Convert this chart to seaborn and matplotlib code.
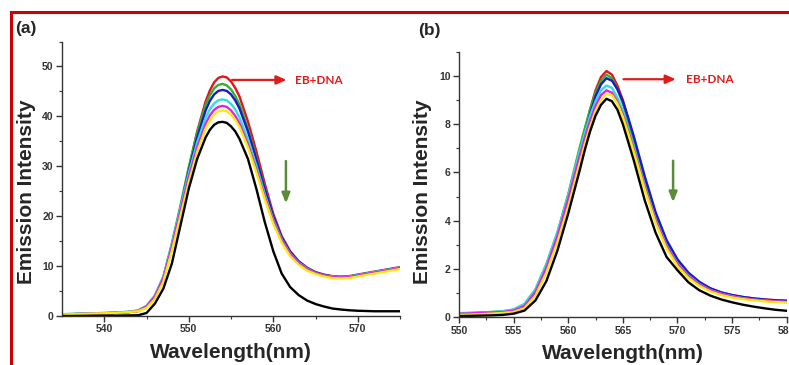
import matplotlib
matplotlib.use("Agg")
import matplotlib.pyplot as plt
import seaborn as sns
import pandas as pd
from matplotlib.patches import Rectangle

# ---------------- data: panel (a) ----------------
wl_a = [535,536,537,538,539,540,541,542,543,544,545,546,547,548,549,550,551,552,
        552.5,553,553.5,554,554.5,555,555.5,556,
        557,558,559,560,561,562,563,564,565,566,567,568,569,570,571,572,573,574,575]
a_red = [0.3,0.35,0.4,0.45,0.5,0.55,0.6,0.7,0.8,1.0,1.8,3.8,7.5,14.0,21.5,29.5,37.0,43.0,
         45.2,46.8,47.7,48.0,47.8,47.0,45.7,44.0,
         39.0,33.0,26.5,20.5,16.0,13.0,11.0,9.7,8.8,8.3,8.0,7.9,8.0,8.3,8.6,8.9,9.2,9.5,9.8]
a_green = [0.35,0.4,0.45,0.5,0.55,0.6,0.65,0.75,0.85,1.1,2.0,4.1,7.9,14.5,22.0,29.8,36.8,42.3,
           44.2,45.6,46.3,46.5,46.2,45.4,44.1,42.4,
           37.6,31.8,25.6,20.0,15.6,12.7,10.8,9.6,8.7,8.2,7.9,7.8,7.9,8.2,8.5,8.8,9.1,9.4,9.7]
a_blue = [0.3,0.35,0.4,0.45,0.5,0.55,0.6,0.7,0.8,1.0,1.9,3.9,7.6,14.1,21.4,29.0,35.8,41.2,
          43.1,44.4,45.1,45.3,45.1,44.4,43.2,41.6,
          37.0,31.4,25.4,20.0,15.7,12.8,10.9,9.6,8.7,8.2,7.9,7.8,7.9,8.2,8.5,8.8,9.1,9.4,9.7]
a_cyan = [0.35,0.4,0.45,0.5,0.55,0.6,0.65,0.75,0.85,1.1,2.0,4.1,7.9,14.4,21.6,28.6,34.8,39.7,
          41.4,42.6,43.2,43.4,43.2,42.5,41.4,39.8,
          35.4,30.1,24.4,19.3,15.3,12.5,10.7,9.5,8.6,8.1,7.9,7.8,7.9,8.2,8.5,8.8,9.1,9.4,9.7]
a_magenta = [0.3,0.35,0.4,0.45,0.5,0.55,0.6,0.7,0.8,1.0,1.9,3.9,7.6,13.9,20.9,27.8,33.8,38.5,
             40.2,41.3,41.9,42.1,41.9,41.2,40.1,38.6,
             34.4,29.3,23.9,19.0,15.1,12.4,10.6,9.4,8.6,8.1,7.8,7.7,7.8,8.1,8.4,8.7,9.0,9.3,9.6]
a_yellow = [0.3,0.35,0.4,0.45,0.5,0.55,0.6,0.7,0.8,0.95,1.6,3.4,6.9,13.0,19.9,26.8,32.9,37.6,
            39.2,40.4,41.0,41.2,41.0,40.4,39.3,37.9,
            33.8,28.8,23.4,18.5,14.7,12.0,10.3,9.1,8.4,7.9,7.6,7.5,7.6,7.9,8.2,8.5,8.8,9.1,9.4]
a_black = [0.0,0.0,0.02,0.04,0.05,0.06,0.08,0.1,0.12,0.15,0.6,2.5,5.5,10.5,18.0,25.5,31.5,35.8,
           37.3,38.3,38.8,38.9,38.7,38.0,37.0,35.5,
           31.5,25.5,18.8,13.0,8.5,5.8,4.2,3.1,2.4,1.9,1.5,1.3,1.15,1.05,1.0,0.95,0.95,0.95,0.95]

# ---------------- data: panel (b) ----------------
wl_b = [550,551,552,553,554,555,556,557,558,559,560,
        561,561.5,562,562.5,563,563.5,564,564.5,565,565.5,566,
        567,568,569,570,571,572,573,574,575,576,577,578,579,580]
b_red = [0.15,0.16,0.18,0.2,0.22,0.28,0.45,1.0,2.0,3.3,4.9,
         6.8,7.7,8.6,9.4,9.95,10.2,10.05,9.6,9.0,8.2,7.4,
         5.7,4.2,3.1,2.3,1.8,1.45,1.2,1.03,0.92,0.84,0.78,0.74,0.71,0.69]
b_green = [0.17,0.18,0.2,0.22,0.25,0.32,0.55,1.15,2.2,3.5,5.1,
           6.95,7.8,8.6,9.3,9.8,10.05,9.9,9.45,8.85,8.05,7.25,
           5.55,4.1,3.0,2.25,1.75,1.4,1.15,1.0,0.88,0.8,0.74,0.7,0.66,0.63]
b_blue = [0.15,0.16,0.18,0.2,0.22,0.28,0.45,1.0,2.0,3.3,4.85,
          6.7,7.55,8.4,9.15,9.65,9.9,9.8,9.45,8.95,8.25,7.5,
          5.85,4.35,3.2,2.4,1.85,1.47,1.2,1.03,0.92,0.84,0.78,0.73,0.7,0.68]
b_cyan = [0.17,0.18,0.2,0.22,0.25,0.32,0.55,1.15,2.2,3.5,5.05,
          6.8,7.6,8.35,8.95,9.4,9.6,9.5,9.1,8.55,7.8,7.05,
          5.45,4.05,2.98,2.23,1.73,1.38,1.13,0.98,0.87,0.79,0.73,0.69,0.66,0.63]
b_magenta = [0.15,0.16,0.18,0.2,0.22,0.28,0.47,1.05,2.05,3.35,4.9,
             6.6,7.4,8.15,8.75,9.2,9.4,9.3,8.92,8.4,7.7,6.95,
             5.4,4.0,2.95,2.2,1.7,1.36,1.12,0.97,0.86,0.78,0.73,0.69,0.66,0.64]
b_yellow = [0.1,0.11,0.13,0.15,0.18,0.22,0.38,0.9,1.85,3.1,4.6,
            6.3,7.15,7.9,8.55,9.0,9.25,9.2,8.85,8.3,7.6,6.85,
            5.3,3.9,2.85,2.12,1.63,1.3,1.07,0.92,0.82,0.75,0.7,0.66,0.63,0.61]
b_black = [0.05,0.06,0.07,0.08,0.1,0.15,0.28,0.7,1.5,2.75,4.3,
           6.0,6.9,7.7,8.35,8.8,9.05,8.95,8.6,8.0,7.25,6.5,
           4.85,3.5,2.5,1.95,1.45,1.12,0.9,0.74,0.62,0.52,0.44,0.37,0.31,0.27]

series_names = ["red", "green", "blue", "cyan", "magenta", "yellow", "black"]
line_colors = ["#e3151b", "#2fb12f", "#1a1ac8", "#30dede", "#e024e0", "#fbe90a", "#000000"]

yticks_a = [0, 10, 20, 30, 40, 50]
xticks_a = [540, 550, 560, 570]
yticks_b = [0, 2, 4, 6, 8, 10]
xticks_b = [550, 555, 560, 565, 570, 575, 580]

sns.set_theme(style="ticks")
plt.rcParams["font.family"] = ["Liberation Sans", "DejaVu Sans"]

fig = plt.figure(figsize=(7.89, 3.65), dpi=100)
W, H = 789, 365

def axes_px(left, right, top, bottom):
    return fig.add_axes([left / W, 1 - bottom / H, (right - left) / W, (bottom - top) / H])

ax_a = axes_px(62, 400, 41.5, 316)
ax_b = axes_px(459, 786.7, 51.7, 317.3)

def draw(ax, wl, curves):
    for name, col, ys in zip(series_names, line_colors, curves):
        df = pd.DataFrame({"wl": wl, "I": ys})
        sns.lineplot(data=df, x="wl", y="I", color=col, lw=1.7, ax=ax, legend=False)

draw(ax_a, wl_a, [a_red, a_green, a_blue, a_cyan, a_magenta, a_yellow, a_black])
draw(ax_b, wl_b, [b_red, b_green, b_blue, b_cyan, b_magenta, b_yellow, b_black])

def style(ax, xlim, ylim, xt, yt, xminor, yminor):
    ax.set_xlim(*xlim)
    ax.set_ylim(*ylim)
    ax.set_xticks(xt)
    ax.set_yticks(yt)
    ax.set_xticks(xminor, minor=True)
    ax.set_yticks(yminor, minor=True)
    for s in ["top", "right"]:
        ax.spines[s].set_visible(False)
    for s in ["left", "bottom"]:
        ax.spines[s].set_color("#333333")
        ax.spines[s].set_linewidth(1.0)
    ax.tick_params(which="major", direction="out", length=4, width=1, color="#333333",
                   labelsize=7.5, labelcolor="#333333", pad=2)
    ax.tick_params(which="minor", direction="out", length=2.5, width=0.8, color="#333333")
    for lab in ax.get_xticklabels() + ax.get_yticklabels():
        lab.set_fontweight("bold")
    ax.set_xlabel("Wavelength(nm)", fontsize=15, fontweight="bold", labelpad=6)
    ax.set_ylabel("Emission Intensity", fontsize=15, fontweight="bold", labelpad=8)
    ax.patch.set_alpha(0)

style(ax_a, (535, 575), (0, 55), xticks_a, yticks_a, [545, 555, 565, 575], [5, 15, 25, 35, 45, 55])
style(ax_b, (550, 580), (0, 11), xticks_b, yticks_b,
      [552.5, 557.5, 562.5, 567.5, 572.5, 577.5], [1, 3, 5, 7, 9, 11])
ax_a.yaxis.set_label_coords(-0.077, 0.452)
ax_b.yaxis.set_label_coords(-0.082, 0.472)

# annotations
red_txt = "#e01b1b"
ax_a.annotate("", xy=(561.9, 47.3), xytext=(554.8, 47.3),
              arrowprops=dict(arrowstyle="-|>,head_length=0.5,head_width=0.22", color=red_txt, lw=1.6))
ax_a.text(562.6, 47.2, "EB+DNA", color=red_txt, fontsize=8.5, fontweight="bold",
          family=["Lato", "DejaVu Sans"], va="center", ha="left")
ax_b.annotate("", xy=(570.1, 9.86), xytext=(564.8, 9.86),
              arrowprops=dict(arrowstyle="-|>,head_length=0.5,head_width=0.22", color=red_txt, lw=1.6))
ax_b.text(570.8, 9.83, "EB+DNA", color=red_txt, fontsize=8.5, fontweight="bold",
          family=["Lato", "DejaVu Sans"], va="center", ha="left")

grn = "#5b8c3a"
ax_a.annotate("", xy=(561.5, 22.0), xytext=(561.5, 31.6),
              arrowprops=dict(arrowstyle="-|>,head_length=0.5,head_width=0.2", color=grn, lw=1.8))
ax_b.annotate("", xy=(569.6, 4.65), xytext=(569.6, 6.6),
              arrowprops=dict(arrowstyle="-|>,head_length=0.5,head_width=0.2", color=grn, lw=1.8))

fig.text(15 / W, 1 - 29 / H, "(a)", fontsize=12.5, fontweight="bold", va="center", ha="left")
fig.text(418 / W, 1 - 30 / H, "(b)", fontsize=12.5, fontweight="bold", va="center", ha="left")

# red frame
fig.patches.append(Rectangle((10.5 / W, -0.1), 1.2, 1.1 - 11.5 / H, transform=fig.transFigure,
                             fill=False, edgecolor="#cc0000", lw=2.2, zorder=0))

fig.savefig("out.png", dpi=100)
